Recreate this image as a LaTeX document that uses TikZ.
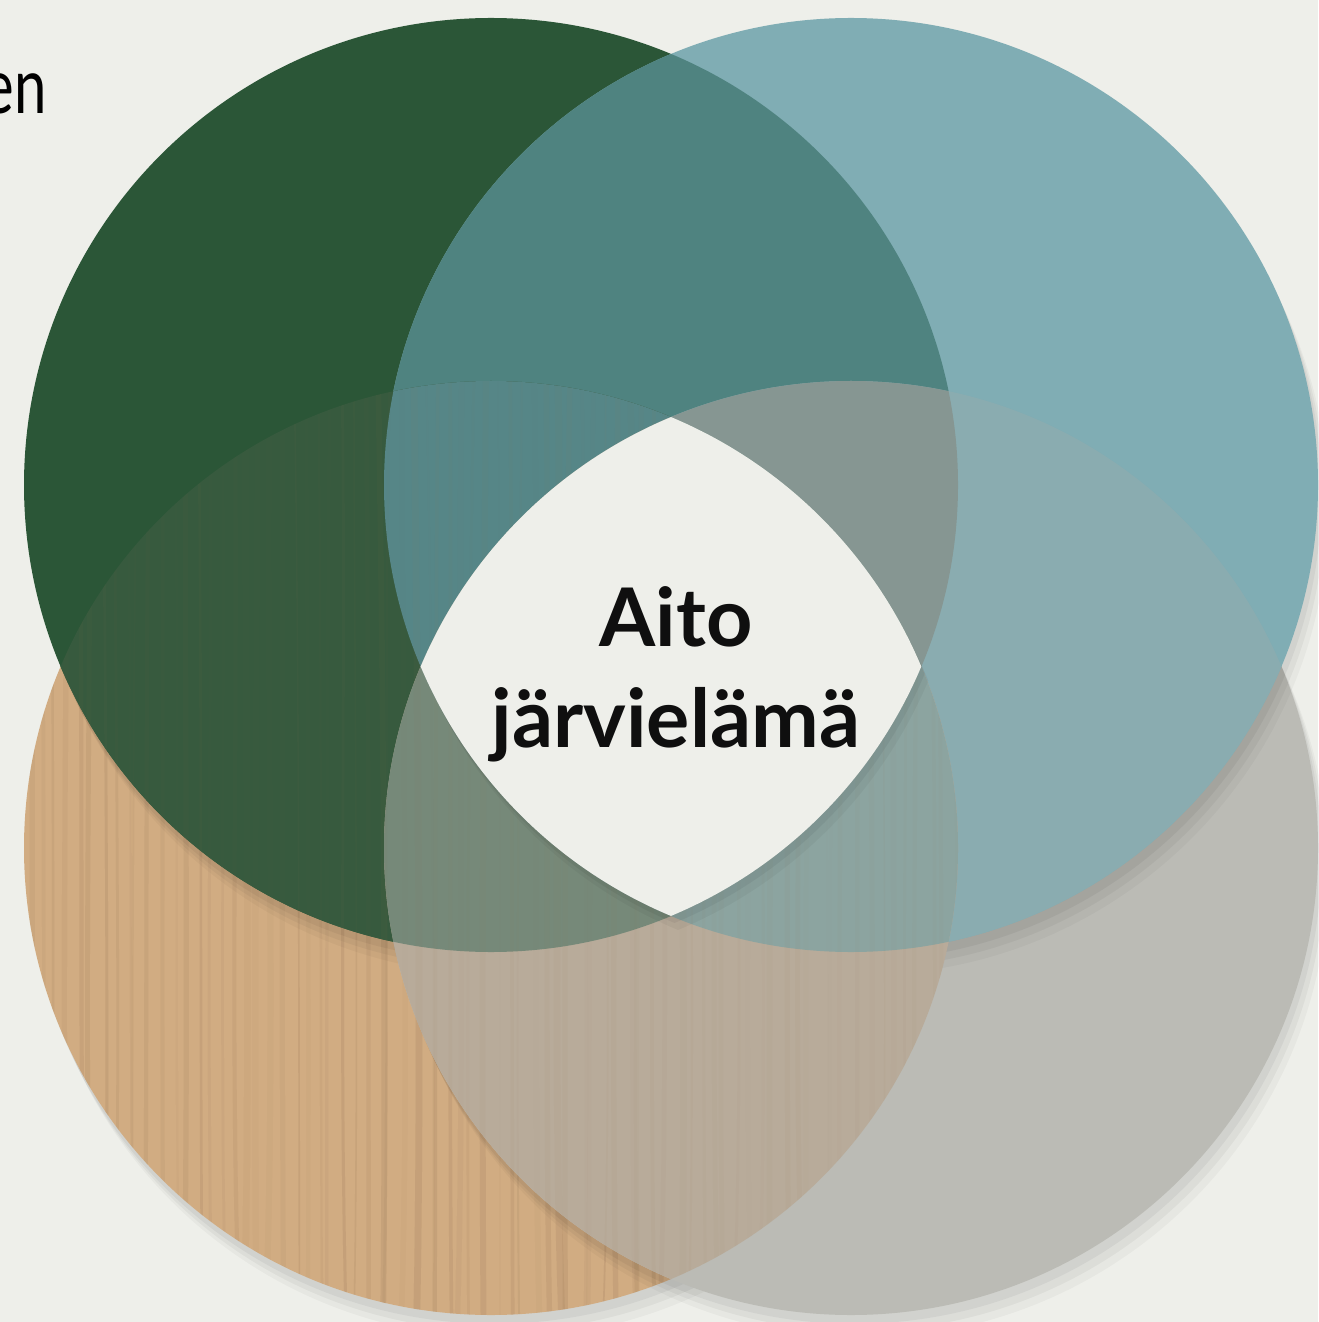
\documentclass[tikz,border=0pt]{standalone}
\usepackage{fontspec}
\setmainfont{Lato}

\definecolor{lakebg}{RGB}{238,239,234}
\definecolor{forestgreen}{RGB}{43,86,55}
\definecolor{lakeblue}{RGB}{128,173,180}
\definecolor{birchwood}{RGB}{209,172,130}
\definecolor{stonegrey}{RGB}{187,187,181}
\definecolor{grainbrown}{RGB}{150,116,84}
\definecolor{greenblue}{RGB}{79,131,128}
\definecolor{greenwood}{RGB}{55,90,62}
\definecolor{bluegrey}{RGB}{138,172,176}
\definecolor{woodgrey}{RGB}{184,171,154}
\definecolor{gbwood}{RGB}{86,134,135}
\definecolor{gbgrey}{RGB}{134,150,146}
\definecolor{gwgrey}{RGB}{118,137,121}
\definecolor{bwgrey}{RGB}{140,164,160}
\definecolor{inktext}{RGB}{15,15,15}

\newcommand{\circr}{467}
% vertical grain lines inside the wood disc, #1 scales their strength
\newcommand{\woodgrain}[1]{%
  \begin{scope}
    \clip (cwood) circle (\circr);
    \pgfmathsetseed{11}
    \foreach \gx in {30,42,...,962}{
      \pgfmathsetmacro{\ga}{rand*7}
      \pgfmathsetmacro{\gb}{rand*9}
      \pgfmathsetmacro{\gop}{(0.03+0.12*rnd)*#1}
      \pgfmathsetmacro{\gw}{0.4+1.6*rnd}
      \draw[grain, opacity=\gop, line width=\gw pt]
        (\gx,-370) .. controls (\gx+\ga,-650) and (\gx-\gb,-1050) .. (\gx+\ga,-1330);
    }
  \end{scope}}

\tikzset{
  disc/.style={
    preaction={fill=black, opacity=0.05, transform canvas={shift={(1pt,-2.5pt)}}},
    preaction={fill=black, opacity=0.04, transform canvas={shift={(2pt,-4.5pt)}}},
    preaction={fill=black, opacity=0.03, transform canvas={shift={(3pt,-6.5pt)}}}},
  lens/.style={
    preaction={fill=black, opacity=0.05, transform canvas={shift={(1pt,-2pt)}}},
    preaction={fill=black, opacity=0.04, transform canvas={shift={(2pt,-4pt)}}}},
  grain/.style={grainbrown, line cap=round},
  title/.style={font=\bfseries\fontsize{23}{28.7}\selectfont, text=inktext, align=center}
}

\begin{document}
\begin{tikzpicture}[x=0.01cm, y=0.01cm]
  % page
  \fill[lakebg] (0,0) rectangle (1318,-1322);
  \useasboundingbox (0,0) rectangle (1318,-1322);

  % circle centres
  \coordinate (cgreen) at (491,-485);
  \coordinate (cblue)  at (851,-485);
  \coordinate (cwood)  at (491,-848);
  \coordinate (cgrey)  at (851,-848);

  % cut-off word at the left
  \node[anchor=base east, font=\fontsize{22}{26}\selectfont, inner sep=0pt,
        xscale=0.75, transform shape] (leftword) at (47,-114) {en};

  % base discs
  \fill[birchwood, disc] (cwood) circle (\circr);
  \woodgrain{1}
  \fill[stonegrey, disc] (cgrey) circle (\circr);
  \fill[forestgreen, disc] (cgreen) circle (\circr);
  \fill[lakeblue, disc] (cblue) circle (\circr);

  % two-disc overlaps
  \begin{scope}
    \clip (cgreen) circle (\circr);
    \fill[greenblue] (cblue) circle (\circr);
  \end{scope}
  \begin{scope}
    \clip (cgreen) circle (\circr);
    \fill[greenwood] (cwood) circle (\circr);
  \end{scope}
  \begin{scope}
    \clip (cblue) circle (\circr);
    \fill[bluegrey] (cgrey) circle (\circr);
  \end{scope}
  \begin{scope}
    \clip (cwood) circle (\circr);
    \fill[woodgrey] (cgrey) circle (\circr);
  \end{scope}

  % three-disc overlaps
  \begin{scope}
    \clip (cgreen) circle (\circr);
    \clip (cblue) circle (\circr);
    \fill[gbwood] (cwood) circle (\circr);
  \end{scope}
  \begin{scope}
    \clip (cgreen) circle (\circr);
    \clip (cblue) circle (\circr);
    \fill[gbgrey] (cgrey) circle (\circr);
  \end{scope}
  \begin{scope}
    \clip (cgreen) circle (\circr);
    \clip (cwood) circle (\circr);
    \fill[gwgrey] (cgrey) circle (\circr);
  \end{scope}
  \begin{scope}
    \clip (cblue) circle (\circr);
    \clip (cwood) circle (\circr);
    \fill[bwgrey] (cgrey) circle (\circr);
  \end{scope}

  % faint grain through the overlaps
  \woodgrain{0.35}

  % centre where all four meet
  \fill[lakebg, lens] (420.7,-666.5)
    arc[start angle=157.13, end angle=112.67, radius=\circr]
    arc[start angle=67.33, end angle=22.87, radius=\circr]
    arc[start angle=-22.87, end angle=-67.33, radius=\circr]
    arc[start angle=-112.67, end angle=-157.13, radius=\circr] -- cycle;

  \node[title] (core) at (676,-674) {Aito\\järvielämä};
\end{tikzpicture}
\end{document}
